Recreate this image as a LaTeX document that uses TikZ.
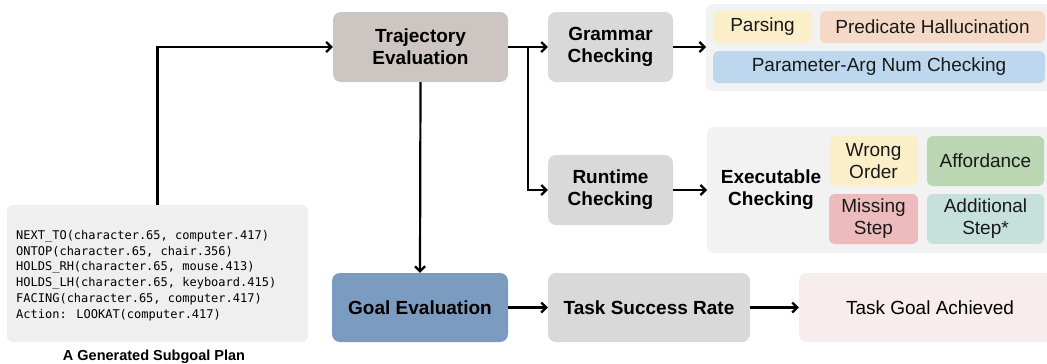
\documentclass[tikz,border=0pt]{standalone}
\usepackage{fontspec}
\usepackage{graphicx}
\setmainfont{Liberation Sans}
\newfontfamily\codefont{DejaVu Sans Mono}
\usetikzlibrary{arrows.meta}
\definecolor{panelbg}{HTML}{F2F2F2}
\definecolor{codebg}{HTML}{EFEFEF}
\definecolor{trajc}{HTML}{CDC5C1}
\definecolor{grayc}{HTML}{D9D9D9}
\definecolor{goalc}{HTML}{7B9BC0}
\definecolor{tgac}{HTML}{F7ECEE}
\definecolor{yellowc}{HTML}{FAEFC8}
\definecolor{peachc}{HTML}{F4DAC6}
\definecolor{bluec}{HTML}{BDD7EE}
\definecolor{greenc}{HTML}{BAD6B3}
\definecolor{pinkc}{HTML}{EEBBBD}
\definecolor{tealc}{HTML}{C6E0DC}
\tikzset{
  box/.style={rounded corners=8pt, inner sep=0pt, align=center, text=black,
    font=\fontsize{19}{22}\selectfont},
  mainbox/.style={box, font=\fontsize{19}{22}\selectfont\bfseries},
  panel/.style={rounded corners=6pt, inner sep=0pt, fill=panelbg},
  tag/.style={box, rounded corners=6pt, text=black!90},
  arr/.style={line width=2.2pt, -{Straight Barb[length=5pt,width=10pt]}},
}
\begin{document}
\begin{tikzpicture}[x=1pt,y=-1pt]
\useasboundingbox (0,0) rectangle (1047,364);
\clip (0,0) rectangle (1047,364);
% code box
\node[panel, fill=codebg, minimum width=301pt, minimum height=137pt] (code) at (157.5,273.5) {};
\node[anchor=west, align=left, inner sep=0pt, font=\codefont\fontsize{12}{15.8}\selectfont] (codetxt) at (16,275.5) {NEXT\_TO(character.65, computer.417)\\ONTOP(character.65, chair.356)\\HOLDS\_RH(character.65, mouse.413)\\HOLDS\_LH(character.65, keyboard.415)\\FACING(character.65, computer.417)\\Action: LOOKAT(computer.417)};
\node[font=\fontsize{14.5}{17}\selectfont\bfseries, inner sep=0pt] (cap) at (154,357) {A Generated Subgoal Plan};
% main boxes
\node[mainbox, fill=trajc, minimum width=175pt, minimum height=70pt] (traj) at (420.5,47) {Trajectory\\Evaluation};
\node[mainbox, fill=grayc, minimum width=125pt, minimum height=70pt] (gram) at (610.5,47) {Grammar\\Checking};
\node[mainbox, fill=grayc, minimum width=125pt, minimum height=70pt] (run) at (610.5,190) {Runtime\\Checking};
\node[mainbox, fill=goalc, minimum width=176pt, minimum height=69pt] (goal) at (420,307.5) {Goal Evaluation};
\node[mainbox, fill=grayc, minimum width=202pt, minimum height=69pt] (tsr) at (649,307.5) {Task Success Rate};
\node[box, fill=tgac, minimum width=262pt, minimum height=69pt] (tga) at (930,307.5) {Task Goal Achieved};
% grammar panel
\node[panel, minimum width=360pt, minimum height=87pt, anchor=west] (gpanel) at (706,47.5) {};
\node[tag, fill=yellowc, minimum width=99pt, minimum height=32pt] (pars) at (762.5,27) {Parsing};
\node[tag, fill=peachc, minimum width=225pt, minimum height=32pt] (pred) at (932.5,27) {Predicate Hallucination};
\node[tag, fill=bluec, minimum width=332pt, minimum height=32pt] (param) at (879,67) {Parameter-Arg Num Checking};
% executable panel
\node[panel, minimum width=360pt, minimum height=126pt, anchor=west] (epanel) at (707,190) {};
\node[mainbox] (exec) at (771,190) {Executable\\Checking};
\node[tag, fill=yellowc, minimum width=89pt, minimum height=50pt] (wrong) at (873.5,161) {Wrong\\Order};
\node[tag, fill=greenc, minimum width=117pt, minimum height=50pt] (aff) at (985.5,161) {Affordance};
\node[tag, fill=pinkc, minimum width=89pt, minimum height=50pt] (miss) at (873.5,219) {Missing\\Step};
\node[tag, fill=tealc, minimum width=117pt, minimum height=50pt] (add) at (985.5,219) {Additional\\Step*};
% connectors
\draw[arr] (code.north) |- (traj.west);
\draw[arr] (traj.east) -- (gram.west);
\coordinate (br) at (528,47);
\draw[arr] (br) |- (run.west);
\draw[arr] (traj.south) -- (goal.north);
\draw[arr] (gram.east) -- (gpanel.west |- gram.east);
\draw[arr] (run.east) -- (epanel.west |- run.east);
\draw[arr] (goal.east) -- (tsr.west);
\draw[arr] (tsr.east) -- (tga.west);
\end{tikzpicture}
\end{document}
